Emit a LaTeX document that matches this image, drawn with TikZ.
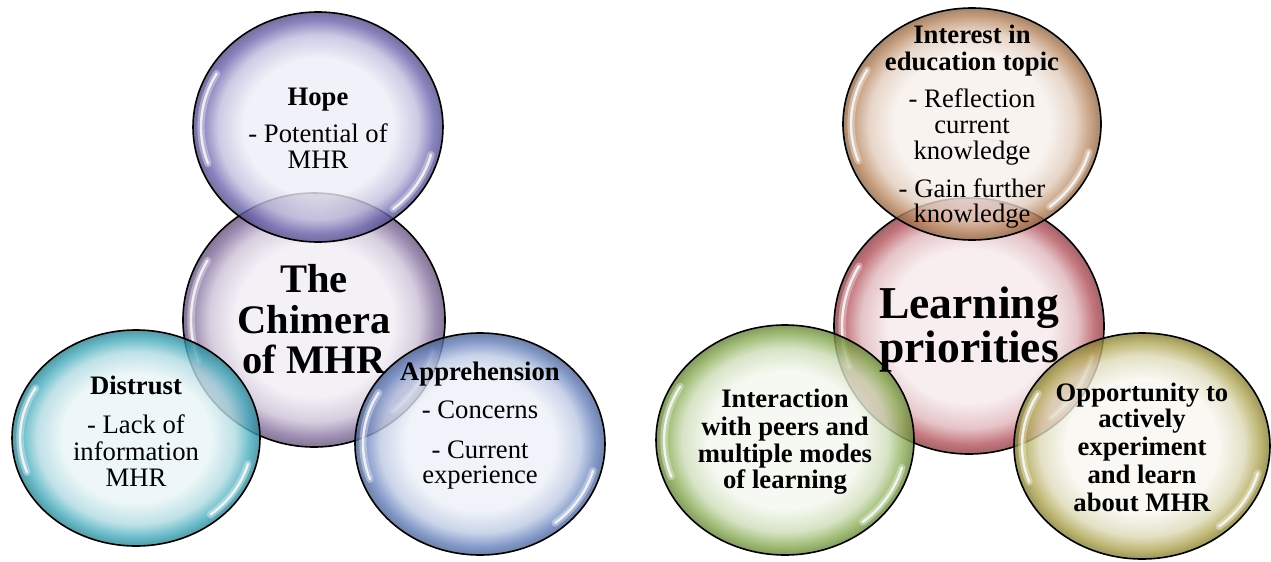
\documentclass[tikz,border=0pt]{standalone}
\usepackage{fontspec}
\setmainfont{Liberation Serif}
\usepackage{tikz}
\usepackage{xcolor}

% bubble colours: rim tint and pale core
\definecolor{hopeEdge}{HTML}{6C65AE}
\definecolor{hopeCore}{HTML}{EDEDF7}
\definecolor{chimEdge}{HTML}{85709F}
\definecolor{chimCore}{HTML}{F1EDF4}
\definecolor{distEdge}{HTML}{3FA8BA}
\definecolor{distCore}{HTML}{E8F4F6}
\definecolor{apprEdge}{HTML}{6580BC}
\definecolor{apprCore}{HTML}{ECF0F8}
\definecolor{intrEdge}{HTML}{B8865F}
\definecolor{intrCore}{HTML}{F7F0EC}
\definecolor{learEdge}{HTML}{B4525B}
\definecolor{learCore}{HTML}{F6EAEC}
\definecolor{inacEdge}{HTML}{86AA50}
\definecolor{inacCore}{HTML}{F3F7EE}
\definecolor{oppoEdge}{HTML}{ACA24C}
\definecolor{oppoCore}{HTML}{F7F6EF}

% glassy radial fill, recoloured for every bubble
\pgfdeclareradialshading[bubEdge,bubCore]{bubble}{\pgfpoint{0bp}{0bp}}{%
  color(0bp)=(bubCore); color(15bp)=(bubCore);
  color(20bp)=(bubCore!65!bubEdge); color(23.2bp)=(bubEdge);
  color(25bp)=(bubEdge!75!black); color(50bp)=(bubEdge!75!black)}

% #1,#2 centre  #3,#4 radii  #5 rim colour  #6 core colour
\newcommand{\mhrBubble}[6]{%
  \colorlet{bubEdge}{#5}\colorlet{bubCore}{#6}%
  \path[glass] (#1,#2) ellipse[x radius=#3, y radius=#4];
  \foreach \glw/\gop in {5.5pt/0.35, 1.8pt/0.8}{
    \draw[gloss, line width=\glw, opacity=\gop] (#1,#2) ++(160:{#3-8} and {#4-8})
      arc[start angle=160, end angle=210, x radius=#3-8, y radius=#4-8];
    \draw[gloss, line width=\glw, opacity=\gop] (#1,#2) ++(15:{#3-8} and {#4-8})
      arc[start angle=15, end angle=50, x radius=#3-8, y radius=#4-8];
  }
  \draw[rim] (#1,#2) ellipse[x radius=#3, y radius=#4];
}

\begin{document}
\begin{tikzpicture}[x=0.75pt,y=-0.75pt,
  glass/.style={shade, shading=bubble, fill opacity=0.8},
  gloss/.style={white, line cap=round},
  rim/.style={black, line width=1.2pt},
  txt/.style={anchor=base, inner sep=0pt, font=\fontsize{20}{20}\selectfont},
  hd/.style={txt, font=\fontsize{20}{20}\selectfont\bfseries},
  bigtxt/.style={anchor=base, inner sep=0pt, font=\fontsize{30.4}{30}\selectfont\bfseries},
  hugetxt/.style={anchor=base, inner sep=0pt, font=\fontsize{34.2}{34}\selectfont\bfseries}]
\useasboundingbox (0,0) rectangle (1271,561);

% left cluster
\mhrBubble{314}{320}{131}{127}{chimEdge}{chimCore}
\mhrBubble{318}{127}{125}{115}{hopeEdge}{hopeCore}
\mhrBubble{136}{438}{124}{108}{distEdge}{distCore}
\mhrBubble{480}{444}{125}{111}{apprEdge}{apprCore}

% right cluster
\mhrBubble{969}{326}{135}{128}{learEdge}{learCore}
\mhrBubble{972}{124}{129}{116}{intrEdge}{intrCore}
\mhrBubble{785}{440}{129}{115}{inacEdge}{inacCore}
\mhrBubble{1142}{446}{128}{113}{oppoEdge}{oppoCore}

% labels, left
\node[hd] (hopeHead) at (318,105) {Hope};
\node[txt] (hopeA) at (318,142) {- Potential of};
\node[txt] (hopeB) at (318,168) {MHR};
\node[bigtxt] (chimA) at (314,292) {The};
\node[bigtxt] (chimB) at (314,333) {Chimera};
\node[bigtxt] (chimC) at (314,373) {of MHR};
\node[hd] (distHead) at (136,394) {Distrust};
\node[txt] (distA) at (136,433) {- Lack of};
\node[txt] (distB) at (136,460) {information};
\node[txt] (distC) at (136,486) {MHR};
\node[hd] (apprHead) at (480,380) {Apprehension};
\node[txt] (apprA) at (480,418) {- Concerns};
\node[txt] (apprB) at (480,458) {- Current};
\node[txt] (apprC) at (480,483) {experience};

% labels, right
\node[hd] (intrHeadA) at (972,43) {Interest in};
\node[hd] (intrHeadB) at (972,70) {education topic};
\node[txt] (intrA) at (972,107) {- Reflection};
\node[txt] (intrB) at (972,133) {current};
\node[txt] (intrC) at (972,159) {knowledge};
\node[txt] (intrD) at (972,197) {- Gain further};
\node[txt] (intrE) at (972,222) {knowledge};
\node[hugetxt] (learA) at (969,318) {Learning};
\node[hugetxt] (learB) at (969,362) {priorities};
\node[hd] (inacA) at (785,407) {Interaction};
\node[hd] (inacB) at (785,435) {with peers and};
\node[hd] (inacC) at (785,462) {multiple modes};
\node[hd] (inacD) at (785,488) {of learning};
\node[hd] (oppoA) at (1142,401) {Opportunity to};
\node[hd] (oppoB) at (1142,427) {actively};
\node[hd] (oppoC) at (1142,455) {experiment};
\node[hd] (oppoD) at (1142,483) {and learn};
\node[hd] (oppoE) at (1142,511) {about MHR};
\end{tikzpicture}
\end{document}
